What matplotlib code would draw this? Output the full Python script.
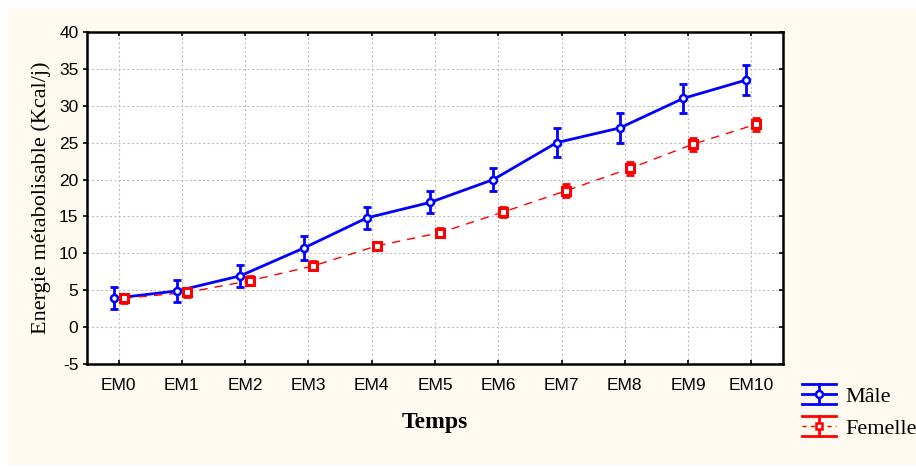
import matplotlib
matplotlib.use("Agg")
import matplotlib.pyplot as plt
import matplotlib.lines as mlines
import numpy as np
from matplotlib.lines import Line2D
from matplotlib.legend_handler import HandlerBase
from matplotlib.patches import Rectangle

categories = ["EM0", "EM1", "EM2", "EM3", "EM4", "EM5", "EM6", "EM7", "EM8", "EM9", "EM10"]
male = [3.9, 4.9, 6.95, 10.7, 14.8, 16.9, 20.0, 25.0, 27.0, 31.0, 33.5]
male_err = [1.5, 1.5, 1.5, 1.6, 1.5, 1.5, 1.5, 2.0, 2.0, 2.0, 2.0]
female = [3.9, 4.7, 6.3, 8.3, 11.0, 12.8, 15.6, 18.5, 21.5, 24.8, 27.5]
female_err = [0.6, 0.6, 0.6, 0.6, 0.6, 0.6, 0.7, 0.9, 0.9, 0.9, 0.9]
yticks = [-5, 0, 5, 10, 15, 20, 25, 30, 35, 40]

BLUE = "#0000FF"
RED = "#FF0000"
CREAM = "#FFFAEF"

fig = plt.figure(figsize=(9.16, 4.68), dpi=100, facecolor="white")
fig.patches.append(Rectangle((8/916, 3/468), 1 - 8/916, 457/468, transform=fig.transFigure,
                             facecolor=CREAM, edgecolor="none", zorder=-10))
ax = fig.add_axes([87/916, 1 - 364/468, (783-87)/916, (364-32)/468])
ax.set_facecolor("white")

x = np.arange(len(categories))
off = 0.078
ax.plot(x - off, male, color=BLUE, lw=2, zorder=3)
ax.errorbar(x - off, male, yerr=male_err, fmt="none", ecolor=BLUE, elinewidth=2,
            capsize=2.7, capthick=2, zorder=3)
ax.plot(x - off, male, ls="none", marker="o", ms=5, mfc="white", mec=BLUE, mew=1.8, zorder=4)

ax.plot(x + off, female, color=RED, lw=1, ls=(0, (6, 5)), zorder=3)
ax.errorbar(x + off, female, yerr=female_err, fmt="none", ecolor=RED, elinewidth=2,
            capsize=2.9, capthick=2, zorder=3)
ax.plot(x + off, female, ls="none", marker="s", ms=5.4, mfc="white", mec=RED, mew=2.2, zorder=4)

ax.set_xlim(-0.5, len(categories) - 0.5)
ax.set_ylim(-5, 40)
ax.set_xticks(x)
ax.set_xticklabels(categories, fontfamily="Liberation Sans", fontsize=12.5)
ax.set_yticks(yticks)
ax.set_yticklabels([str(v) for v in yticks], fontfamily="Liberation Sans", fontsize=12.5)
ax.grid(True, color="#C0C0C0", ls=(0, (2, 2)), lw=0.8)
ax.set_axisbelow(True)
for s in ax.spines.values():
    s.set_linewidth(1.8)
    s.set_color("black")
ax.tick_params(axis="y", which="both", left=True, right=True, direction="out", length=3.2, width=1.2, pad=3)
ax.tick_params(axis="x", which="both", bottom=True, top=True, direction="in", length=3.2, width=1.2, pad=10)
for t in ax.yaxis.get_major_ticks():
    t.tick2line.set_marker(mlines.TICKLEFT)

ax.set_xlabel("Temps", fontfamily="Liberation Serif", fontweight="bold", fontsize=17, labelpad=14)
ax.set_ylabel("Energie métabolisable (Kcal/j)", fontfamily="Liberation Serif", fontsize=16, labelpad=6)


class HandlerStat(HandlerBase):
    def __init__(self, color, ls, marker, lw, **kw):
        super().__init__(**kw)
        self.color, self.ls, self.marker, self.lw = color, ls, marker, lw

    def create_artists(self, legend, orig_handle, xdescent, ydescent, width, height, fontsize, trans):
        cy = height / 2 - ydescent
        cx = width / 2 - xdescent
        h = 7.0
        arts = []
        arts.append(Line2D([-xdescent, width - xdescent], [cy + h, cy + h], color=self.color, lw=2, transform=trans))
        arts.append(Line2D([-xdescent, width - xdescent], [cy - h, cy - h], color=self.color, lw=2, transform=trans))
        arts.append(Line2D([cx, cx], [cy - h, cy + h], color=self.color, lw=2, transform=trans))
        arts.append(Line2D([-xdescent, width - xdescent], [cy, cy], color=self.color, lw=self.lw, ls=self.ls, transform=trans))
        arts.append(Line2D([cx], [cy], ls="none", marker=self.marker, ms=5, mfc="white", mec=self.color, mew=1.8, transform=trans))
        return arts


hm = Line2D([], [], color=BLUE)
hf = Line2D([], [], color=RED)
leg = fig.legend([hm, hf], ["Mâle", "Femelle"], loc="upper left", bbox_to_anchor=(802/916, 1 - 386/468),
                 frameon=False, prop={"family": "Liberation Serif", "size": 16},
                 handlelength=1.55, handletextpad=0.4, labelspacing=0.52, borderaxespad=0, borderpad=0,
                 handler_map={hm: HandlerStat(BLUE, "-", "o", 2), hf: HandlerStat(RED, (0, (3, 3)), "s", 1)})

fig.savefig("out.png", dpi=100, facecolor=fig.get_facecolor())
